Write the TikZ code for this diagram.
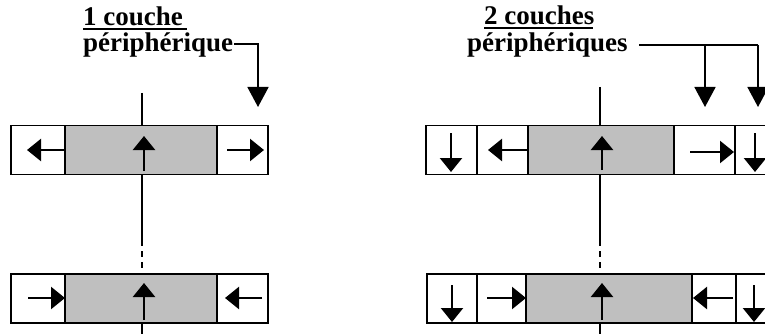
\documentclass[tikz,border=0pt]{standalone}
\usepackage{fontspec}
\setmainfont{Liberation Serif}
\usetikzlibrary{arrows.meta}
\tikzset{
  cell/.style={draw, line width=1.7pt, inner sep=0pt, minimum height=49pt},
  core/.style={cell, fill=black!25},
  flux/.style={line width=2.4pt, -{Triangle[length=14pt,width=22pt]}},
  lead/.style={line width=1.7pt},
  leadarrow/.style={lead, -{Triangle[length=20pt,width=21pt]}},
  axis/.style={line width=1.4pt},
  lbl/.style={anchor=base west, inner sep=0pt, font=\bfseries\fontsize{27}{30}\selectfont}
}
\begin{document}
\begin{tikzpicture}[x=1pt,y=-1pt]
\clip (0,0) rectangle (765,334);
\fill[white] (0,0) rectangle (765,334);

% ---------- labels ----------
\node[lbl] (t1) at (83,26) {1 couche};
\node[lbl] (t2) at (83,52) {périphérique};
\node[lbl] (t3) at (484,25) {2 couches};
\node[lbl] (t4) at (467,52) {périphériques};
\draw[line width=1.4pt] (83,29) -- (187,29);
\draw[line width=1.4pt] (484,28) -- (593,28);

% ---------- leaders ----------
\coordinate (la) at (234,44);
\coordinate (lb) at (258,44);
\coordinate (lc) at (258,107);
\draw[leadarrow] (la) -- (lb) -- (lc);
\coordinate (ra) at (639,45);
\coordinate (rb) at (758,45);
\coordinate (rc) at (758,107);
\coordinate (rd) at (705,45);
\coordinate (re) at (705,107);
\draw[lead] (ra) -- (rb);
\draw[leadarrow] (rb) -- (rc);
\draw[leadarrow] (rd) -- (re);

% ---------- axes ----------
\coordinate (ax1) at (142,93);  \coordinate (ax2) at (142,126);
\coordinate (ax3) at (142,174); \coordinate (ax4) at (142,240);
\coordinate (ax5) at (142,274); \coordinate (ax6) at (142,323);
\coordinate (ax7) at (142,334);
\draw[axis] (ax1) -- (ax2);
\draw[axis] (ax3) -- (ax4);
\draw[axis, dash pattern=on 6pt off 5pt] (ax4) -- (ax5);
\draw[axis] (ax6) -- (ax7);
\coordinate (bx1) at (600,87);  \coordinate (bx2) at (600,126);
\coordinate (bx3) at (600,174); \coordinate (bx4) at (600,240);
\coordinate (bx5) at (600,274); \coordinate (bx6) at (600,323);
\coordinate (bx7) at (600,334);
\draw[axis] (bx1) -- (bx2);
\draw[axis] (bx3) -- (bx4);
\draw[axis, dash pattern=on 6pt off 5pt] (bx4) -- (bx5);
\draw[axis] (bx6) -- (bx7);

% ---------- left, top ----------
\node[cell, minimum width=54pt] (a1) at (38,150) {};
\node[core, minimum width=152pt] (a2) at (141,150) {};
\node[cell, minimum width=51pt] (a3) at (242.5,150) {};
\draw[flux] (65,150) -- (27,150);
\draw[flux] (144,171) -- (144,136);
\draw[flux] (227,150) -- (264,150);

% ---------- left, bottom ----------
\node[cell, minimum width=54pt] (b1) at (38,298.5) {};
\node[core, minimum width=152pt] (b2) at (141,298.5) {};
\node[cell, minimum width=51pt] (b3) at (242.5,298.5) {};
\draw[flux] (28,298) -- (65,298);
\draw[flux] (144,320) -- (144,283);
\draw[flux] (262,298) -- (225,298);

% ---------- right, top ----------
\node[cell, minimum width=51pt] (c1) at (451.5,150) {};
\node[cell, minimum width=51pt] (c2) at (502.5,150) {};
\node[core, minimum width=146pt] (c3) at (601,150) {};
\node[cell, minimum width=61pt] (c4) at (704.5,150) {};
\node[cell, minimum width=51pt] (c5) at (760.5,150) {};
\draw[flux] (451,133) -- (451,172);
\draw[flux] (528,150) -- (488,150);
\draw[flux] (602,170) -- (602,136);
\draw[flux] (690,152) -- (734,152);
\draw[flux] (755,133) -- (755,172);

% ---------- right, bottom ----------
\node[cell, minimum width=50pt] (d1) at (452,298.5) {};
\node[cell, minimum width=49pt] (d2) at (501.5,298.5) {};
\node[core, minimum width=166pt] (d3) at (609,298.5) {};
\node[cell, minimum width=44pt] (d4) at (714,298.5) {};
\node[cell, minimum width=51pt] (d5) at (761.5,298.5) {};
\draw[flux] (452,285) -- (452,322);
\draw[flux] (487,298) -- (526,298);
\draw[flux] (602,320) -- (602,283);
\draw[flux] (733,298) -- (693,298);
\draw[flux] (754,285) -- (754,322);
\end{tikzpicture}
\end{document}
